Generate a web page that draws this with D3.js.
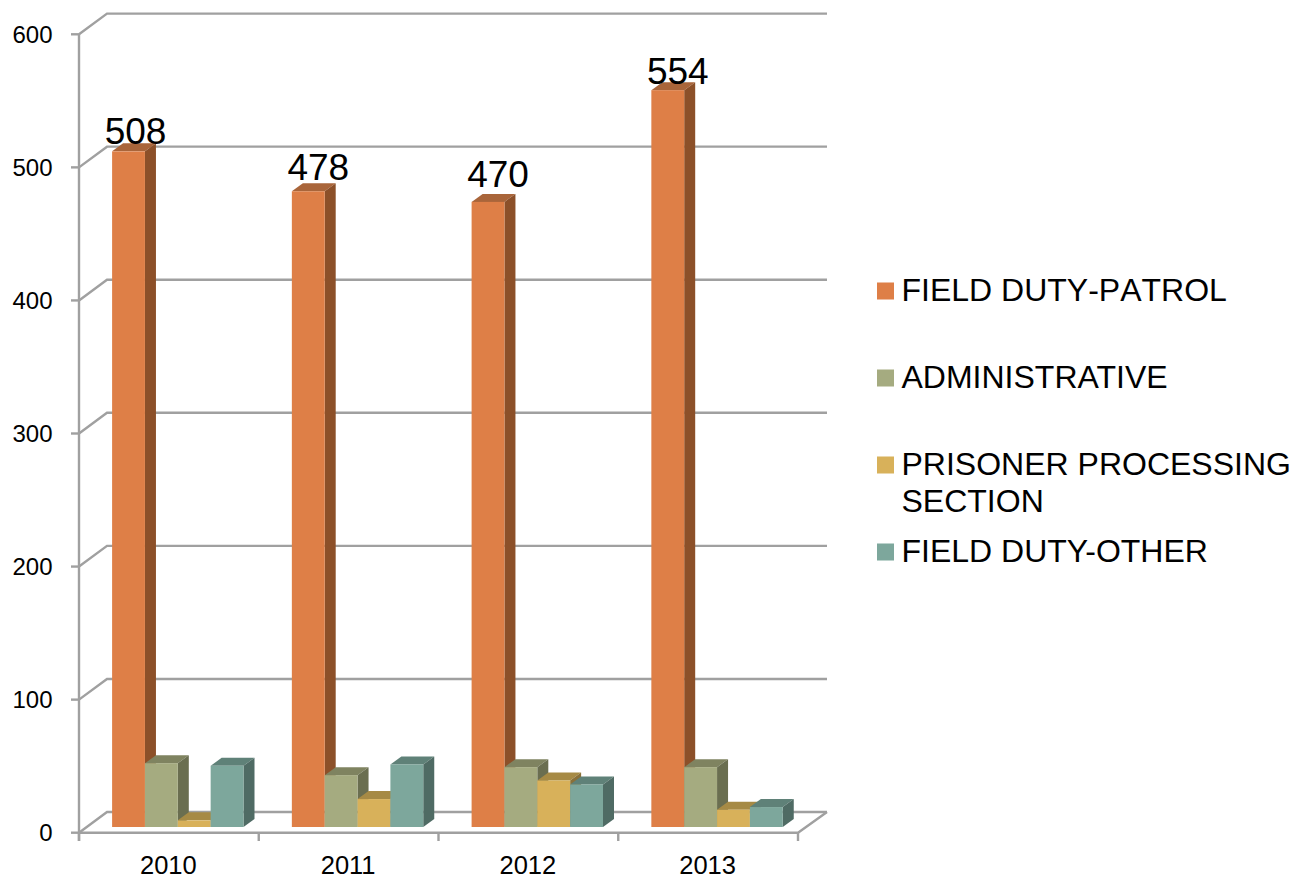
<!DOCTYPE html>
<html><head><meta charset="utf-8">
<style>html,body{margin:0;padding:0;background:#fff}svg{display:block}text{font-family:"Liberation Sans",Arial,sans-serif;fill:#000}</style>
<script src="https://cdn.jsdelivr.net/npm/d3@7"></script></head>
<body><svg id="c" width="1293" height="878"></svg>
<script>
const years = ["2010","2011","2012","2013"];
const seriesNames = ["FIELD DUTY-PATROL","ADMINISTRATIVE","PRISONER PROCESSING SECTION","FIELD DUTY-OTHER"];
const patrol = [508,478,470,554];
const administrative = [48,39,45,45];
const prisoner = [5,21,35,13];
const other = [46,47,32,15];
const yTicks = [0,100,200,300,400,500,600];
const faceColors = ["#DE7F47","#A5AB80","#D8B15A","#7DA79C"];
const sideColors = ["#8C5029","#6A6E50","#8A7038","#4F6B64"];
const topColors  = ["#A9653A","#7F8360","#A68A45","#5F8178"];
const labelShift = [[7,-7],[10,-11],[10,-15],[10,-6]];

const allSeries = [patrol,administrative,prisoner,other];
const svg = d3.select("#c");
const grey = "#A0A0A0";
const wallDx = 28, wallDy = -20.7, barDx = 11, barDy = -8;

const x0 = d3.scaleBand().domain(years).range([79,798]);
const xTickPos = d3.scaleLinear().domain([0,4]).range([79,798]);
const y = d3.scaleLinear().domain([0,600]).range([832.7,34.3]);
const yBar = d3.scaleLinear().domain([0,600]).range([827,29]);
const x1 = d3.scaleBand().domain(d3.range(4)).range([33.1,164.5]);

const grid = svg.append("g").attr("fill","none").attr("stroke",grey).attr("stroke-width",2.4);
yTicks.forEach(t=>{
  const yy=y(t);
  grid.append("path").attr("d",`M${79},${yy}L${79+wallDx},${yy+wallDy}L${798+wallDx+1},${yy+wallDy}`);
  grid.append("line").attr("x1",71).attr("x2",79).attr("y1",yy).attr("y2",yy);
});
grid.append("line").attr("x1",79).attr("x2",79).attr("y1",34).attr("y2",841);
grid.append("path").attr("d",`M79,${y(0)}L798,${y(0)}L${798+wallDx+1},${y(0)+wallDy}`);
d3.range(5).forEach(i=>{
  const xx=xTickPos(i);
  grid.append("line").attr("x1",xx).attr("x2",xx).attr("y1",y(0)).attr("y2",841);
});

svg.append("g").selectAll("text").data(yTicks).join("text")
  .attr("x",52.5).attr("y",d=>y(d)+8.5).attr("text-anchor","end").attr("font-size",24).text(d=>d);
svg.append("g").selectAll("text").data(years).join("text")
  .attr("x",d=>x0(d)+x0.bandwidth()/2-0.5).attr("y",874).attr("text-anchor","middle").attr("font-size",25.5).text(d=>d);

const bars = svg.append("g");
years.forEach((yr,g)=>{
  allSeries.forEach((vals,s)=>{
    const l=x0(yr)+x1(s), w=x1.bandwidth(), r=l+w, t=yBar(vals[g]), b=yBar(0);
    const grp=bars.append("g");
    grp.append("path").attr("fill",topColors[s])
      .attr("d",`M${l},${t}L${l+barDx},${t+barDy}L${r+barDx},${t+barDy}L${r},${t}Z`);
    grp.append("path").attr("fill",sideColors[s])
      .attr("d",`M${r},${t}L${r+barDx},${t+barDy}L${r+barDx},${b+barDy}L${r},${b}Z`);
    grp.append("rect").attr("fill",faceColors[s]).attr("x",l).attr("y",t).attr("width",w).attr("height",b-t);
  });
});

svg.append("g").selectAll("text").data(patrol).join("text")
  .attr("x",(d,i)=>x0(years[i])+x1(0)+x1.bandwidth()/2+labelShift[i][0])
  .attr("y",(d,i)=>yBar(d)+labelShift[i][1])
  .attr("text-anchor","middle").attr("font-size",37).text(d=>d);

const legendY = d3.scalePoint().domain(d3.range(4)).range([291,552]);
const legendLines = [[seriesNames[0]],[seriesNames[1]],["PRISONER PROCESSING","SECTION"],[seriesNames[3]]];
const leg = svg.append("g");
d3.range(4).forEach(i=>{
  leg.append("rect").attr("x",877).attr("y",legendY(i)-8.5).attr("width",17).attr("height",17).attr("fill",faceColors[i]);
  legendLines[i].forEach((ln,j)=>{
    leg.append("text").attr("x",901.5).attr("y",legendY(i)+10+j*37).attr("font-size",32)
      .style("font-kerning",i===0?"none":"normal").text(ln);
  });
});
</script></body></html>
